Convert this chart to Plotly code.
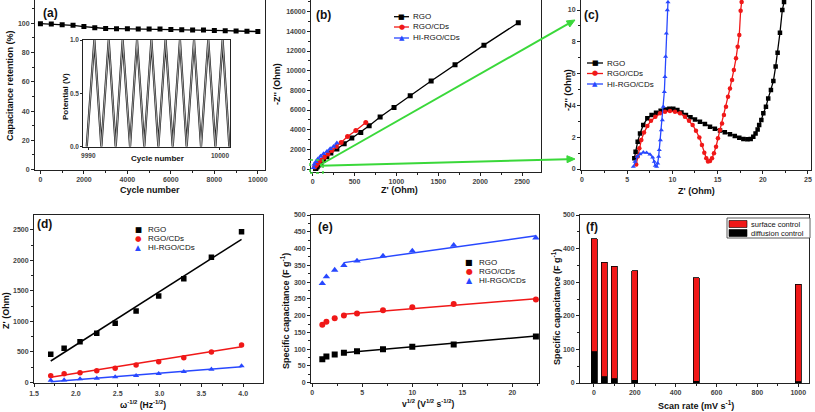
import plotly.graph_objects as go

W, H = 815, 412
FONT = "Liberation Sans, Arial, sans-serif"
GLYPH = "DejaVu Sans"

# ---------------- data ----------------
# (a) cycling stability
cycle_a = [0, 500, 1000, 1500, 2000, 2500, 3000, 3500, 4000, 4500, 5000,
           5500, 6000, 6500, 7000, 7500, 8000, 8500, 9000, 9500, 10000]
retention_a = [99.8, 99.5, 99.1, 98.7, 97.8, 97.0, 96.5, 96.4, 96.3, 96.2, 96.1,
               96.1, 95.8, 95.6, 95.5, 95.4, 95.1, 95.0, 94.8, 94.6, 94.4]
# (a) inset: turning points of the charge/discharge curve
inset_cycle = [9989.88, 9990.46, 9990.99, 9991.55, 9992.08, 9992.61, 9993.17,
               9993.70, 9994.25, 9994.79, 9995.32, 9995.87, 9996.41, 9996.96,
               9997.47, 9998.03, 9998.56, 9999.11, 9999.65, 10000.20, 10000.71]
inset_potential = [0.0, 1.0, 0.0, 1.0, 0.0, 1.0, 0.0, 1.0, 0.0, 1.0, 0.0,
                   1.0, 0.0, 1.0, 0.0, 1.0, 0.0, 1.0, 0.0, 1.0, 0.0]
inset_ticks = [9990, 10000]
inset_ticktext = ["9990", "10000"]

# (b) Nyquist full range
b_rgo_x = [35, 42, 55, 75, 100, 130, 170, 218, 290, 377, 468, 575, 675, 806, 972, 1165, 1415, 1700, 2045, 2455]
b_rgo_y = [40, 110, 230, 400, 620, 900, 1250, 1620, 2030, 2570, 3146, 3720, 4400, 5280, 6250, 7450, 8950, 10600, 12600, 14880]
b_cd_x = [24, 44, 71, 103, 139, 183, 230, 282, 341, 417, 516, 635]
b_cd_y = [203, 372, 609, 880, 1184, 1522, 1894, 2300, 2706, 3315, 3924, 4736]
b_hi_x = [10, 20, 40, 63, 95, 131, 171, 210, 250, 290]
b_hi_y = [120, 474, 744, 1015, 1286, 1556, 1793, 2063, 2300, 2640]

# (c) Nyquist zoom
c_rgo_x = [5.79, 5.93, 6.16, 6.42, 6.78, 7.23, 7.70, 8.19, 8.70, 9.18, 9.66, 10.10,
           10.55, 11.00, 11.50, 12.00, 12.50, 13.05, 13.60, 14.16, 14.70, 15.27,
           15.80, 16.37, 16.90, 17.40, 17.85, 18.30, 18.66, 18.95, 19.20, 19.43,
           19.60, 19.84, 20.06, 20.35, 20.60, 20.90, 21.17, 21.42, 21.64, 21.90, 22.16, 22.35]
c_rgo_y = [0.67, 1.09, 1.72, 2.24, 2.77, 3.19, 3.40, 3.54, 3.67, 3.75, 3.79, 3.79,
           3.71, 3.56, 3.40, 3.25, 3.12, 2.98, 2.83, 2.66, 2.54, 2.43,
           2.31, 2.18, 2.08, 1.97, 1.89, 1.87, 1.89, 2.03, 2.24, 2.49,
           2.77, 3.08, 3.50, 3.92, 4.44, 4.97, 5.53, 6.44, 7.32, 8.57, 10.0, 10.5]
c_cd_x = [6.00, 6.16, 6.34, 6.56, 6.86, 7.23, 7.63, 8.11, 8.63, 9.18, 9.73, 10.29,
          10.84, 11.39, 11.84, 12.24, 12.61, 12.98, 13.27, 13.53, 13.75, 13.94,
          14.16, 14.38, 14.60, 14.83, 15.04, 15.27, 15.49, 15.70, 15.93, 16.15,
          16.37, 16.60, 16.80, 17.04, 17.22, 17.40, 17.55, 17.66]
c_cd_y = [0.29, 0.78, 1.30, 1.82, 2.29, 2.70, 3.04, 3.29, 3.50, 3.60, 3.65, 3.60,
          3.50, 3.29, 3.04, 2.77, 2.41, 1.99, 1.51, 1.03, 0.67, 0.48,
          0.50, 0.67, 0.99, 1.40, 1.93, 2.45, 2.87, 3.40, 3.92, 4.55,
          5.07, 5.60, 6.23, 6.96, 7.69, 8.43, 9.96, 10.5]
c_hi_x = [5.68, 5.86, 6.12, 6.42, 6.78, 7.15, 7.52, 7.82, 8.00, 8.11, 8.26, 8.37,
          8.48, 8.55, 8.67, 8.78, 8.89, 9.00, 9.11, 9.18, 9.25, 9.33, 9.44, 9.51]
c_hi_y = [0.15, 0.46, 0.78, 0.94, 1.05, 1.03, 0.92, 0.73, 0.46, 0.21, 0.15, 0.36,
          0.78, 1.20, 1.82, 2.45, 3.08, 3.92, 4.86, 5.80, 7.07, 8.53, 10.0, 10.5]

# (d) Z' vs omega^-1/2
d_x = [1.70, 1.86, 2.05, 2.25, 2.47, 2.72, 2.99, 3.29, 3.62, 3.98]
d_rgo = [459, 558, 667, 804, 968, 1170, 1417, 1701, 2051, 2472]
d_cd = [109, 142, 159, 191, 230, 284, 339, 405, 498, 613]
d_hi = [33, 38, 55, 66, 88, 109, 142, 175, 213, 268]
d_fit_x = [1.70, 3.98]
d_fit_rgo = [350, 2347]
d_fit_cd = [82, 585]
d_fit_hi = [11, 257]

# (e) specific capacitance vs v^1/2
e_x = [1.0, 1.41, 2.24, 3.16, 4.47, 7.07, 10.0, 14.14, 22.36]
e_rgo = [70, 78, 84, 89.5, 94, 100, 107, 114, 138]
e_cd = [173, 182, 192, 200, 206, 216, 225, 235, 248]
e_hi = [296, 316, 336, 350, 363, 378, 393, 410, 432]
e_fit_x = [3.16, 22.36]
e_fit_rgo = [89.5, 139]
e_fit_cd = [204, 250.5]
e_fit_hi = [358, 438]

# (f) capacitance contributions
f_rate = [2, 50, 100, 200, 500, 1000]
f_diffusion = [93, 18, 12, 8, 5, 3]
f_total = [430, 359, 347, 334, 314, 294]
f_surface = [t - d for t, d in zip(f_total, f_diffusion)]

RED = "#f01818"
BLUE = "#2848ff"
BLACK = "#000000"
GREEN = "#3ad83a"


def px(x):
    return x / W


def py(y):
    return 1 - y / H


def axis(xpx, rng, dtick, minor=None, tick0=0, tickvals=None, ticktext=None,
         ypx=None, anchor=None, fmt=None, ticklen=3, tfs=7):
    if ypx is not None:
        dom = [py(ypx[1]), py(ypx[0])]
    else:
        dom = [px(xpx[0]), px(xpx[1])]
    d = dict(domain=dom, range=rng, showline=True, linecolor="#222", linewidth=1,
             mirror=True, ticks="outside", ticklen=ticklen, tickwidth=1, tickcolor="#222",
             tickfont=dict(size=tfs, family=FONT, color="#444", weight="bold"),
             exponentformat="none", separatethousands=False,
             showgrid=False, zeroline=False, automargin=False, anchor=anchor)
    if fmt is not None:
        d["tickformat"] = fmt
    if tickvals is not None:
        d["tickmode"] = "array"
        d["tickvals"] = tickvals
        if ticktext is not None:
            d["ticktext"] = ticktext
    else:
        d["dtick"] = dtick
        d["tick0"] = tick0
    if minor is not None:
        d["minor"] = dict(dtick=minor, ticks="outside", ticklen=2, tickcolor="#222", showgrid=False)
    return d


fig = go.Figure()


def line_marker(x, y, xa, ya, color, symbol, size, name):
    fig.add_trace(go.Scatter(x=x, y=y, xaxis=xa, yaxis=ya, mode="lines+markers", name=name,
                             line=dict(color=color, width=1.3),
                             marker=dict(symbol=symbol, size=size, color=color),
                             showlegend=False))


def markers(x, y, xa, ya, color, symbol, size, name):
    fig.add_trace(go.Scatter(x=x, y=y, xaxis=xa, yaxis=ya, mode="markers", name=name,
                             marker=dict(symbol=symbol, size=size, color=color),
                             showlegend=False))


def fit(x, y, xa, ya, color, name):
    fig.add_trace(go.Scatter(x=x, y=y, xaxis=xa, yaxis=ya, mode="lines", name=name,
                             line=dict(color=color, width=1.5), showlegend=False))


# (a)
line_marker(cycle_a, retention_a, "x", "y", BLACK, "square", 5, "Capacitance retention")
fig.add_trace(go.Scatter(x=inset_cycle, y=inset_potential, xaxis="x2", yaxis="y2", mode="lines",
                         line=dict(color="#1a1a1a", width=2.2), showlegend=False, name="GCD"))
fig.add_trace(go.Scatter(x=inset_cycle, y=inset_potential, xaxis="x2", yaxis="y2", mode="lines",
                         line=dict(color="#a8a8a8", width=1.0), showlegend=False, name="GCD"))
# (b)
line_marker(b_rgo_x, b_rgo_y, "x3", "y3", BLACK, "square", 5, "RGO")
line_marker(b_cd_x, b_cd_y, "x3", "y3", RED, "circle", 5, "RGO/CDs")
line_marker(b_hi_x, b_hi_y, "x3", "y3", BLUE, "triangle-up", 5, "HI-RGO/CDs")
# (c)
line_marker(c_rgo_x, c_rgo_y, "x4", "y4", BLACK, "square", 4.5, "RGO")
line_marker(c_cd_x, c_cd_y, "x4", "y4", RED, "circle", 4.5, "RGO/CDs")
line_marker(c_hi_x, c_hi_y, "x4", "y4", BLUE, "triangle-up", 4.5, "HI-RGO/CDs")
# (d)
markers(d_x, d_rgo, "x5", "y5", BLACK, "square", 5.5, "RGO")
markers(d_x, d_cd, "x5", "y5", RED, "circle", 5.5, "RGO/CDs")
markers(d_x, d_hi, "x5", "y5", BLUE, "triangle-up", 5.5, "HI-RGO/CDs")
fit(d_fit_x, d_fit_rgo, "x5", "y5", BLACK, "RGO fit")
fit(d_fit_x, d_fit_cd, "x5", "y5", RED, "RGO/CDs fit")
fit(d_fit_x, d_fit_hi, "x5", "y5", BLUE, "HI-RGO/CDs fit")
# (e)
markers(e_x, e_rgo, "x6", "y6", BLACK, "square", 6, "RGO")
markers(e_x, e_cd, "x6", "y6", RED, "circle", 6, "RGO/CDs")
markers(e_x, e_hi, "x6", "y6", BLUE, "triangle-up", 6.5, "HI-RGO/CDs")
fit(e_fit_x, e_fit_rgo, "x6", "y6", BLACK, "RGO fit")
fit(e_fit_x, e_fit_cd, "x6", "y6", RED, "RGO/CDs fit")
fit(e_fit_x, e_fit_hi, "x6", "y6", BLUE, "HI-RGO/CDs fit")
# (f)
fig.add_trace(go.Bar(x=f_rate, y=f_diffusion, xaxis="x7", yaxis="y7", width=30,
                     marker=dict(color=BLACK, line=dict(color="#000", width=0.8)),
                     name="diffusion control", showlegend=False))
fig.add_trace(go.Bar(x=f_rate, y=f_surface, xaxis="x7", yaxis="y7", width=30,
                     marker=dict(color=RED, line=dict(color="#000", width=0.8)),
                     name="surface control", showlegend=False))

layout = dict(
    width=W, height=H, margin=dict(l=0, r=0, t=0, b=0),
    paper_bgcolor="white", plot_bgcolor="white", showlegend=False,
    barmode="stack", font=dict(family=FONT), separators=".,",
    xaxis=axis((35, 265), [-250, 10330], 2000, minor=1000, anchor="y", fmt="d"),
    yaxis=axis(None, [0, 116], 20, minor=10, ypx=(0, 169.5), anchor="x", fmt="d"),
    xaxis2=axis((83.3, 230), [9989.62, 10000.76], None, tickvals=inset_ticks,
                ticktext=inset_ticktext, anchor="y2", ticklen=2, tfs=6.5),
    yaxis2=axis(None, [0, 1.0], None, tickvals=[0, 0.5, 1.0], ticktext=["0.0", "0.5", "1.0"],
                ypx=(40, 146.7), anchor="x2", ticklen=2, tfs=6.5),
    xaxis3=axis((311, 541), [-19, 2726], 500, minor=250, anchor="y3", fmt="d"),
    yaxis3=axis(None, [-254, 17190], 2000, minor=1000, ypx=(0, 171.5), anchor="x3", fmt="d"),
    xaxis4=axis((581, 810.7), [-0.11, 25.3], 5, minor=2.5, anchor="y4", fmt="d"),
    yaxis4=axis(None, [-0.03, 10.63], 2, minor=1, ypx=(0, 169.5), anchor="x4", fmt="d"),
    xaxis5=axis((34, 263.3), [1.5, 4.24], 0.5, minor=0.25, anchor="y5", fmt=".1f"),
    yaxis5=axis(None, [-16, 2746], 500, minor=250, ypx=(215, 383.3), anchor="x5", fmt="d"),
    xaxis6=axis((311, 539.3), [-0.13, 22.7], 5, minor=2.5, anchor="y6", fmt="d"),
    yaxis6=axis(None, [0, 500], 50, minor=25, ypx=(215, 382.7), anchor="x6", fmt="d"),
    xaxis7=axis((580, 809.3), [-68, 1054], 200, minor=100, anchor="y7", fmt="d"),
    yaxis7=axis(None, [0, 500], 100, minor=50, ypx=(215, 383), anchor="x7", fmt="d"),
)
fig.update_layout(**layout)

annotations = []
shapes = []


def label(text, x, y, size=8, xanchor="left", color="#111", family=FONT, bold=False, angle=0):
    annotations.append(dict(text=text, x=px(x), y=py(y), xref="paper", yref="paper",
                            showarrow=False, xanchor=xanchor, yanchor="middle", textangle=angle,
                            font=dict(size=size, color=color, family=family,
                                      weight="bold" if bold else "normal")))


# axis titles
CAP = "Specific capacitance (F g<sup>-1</sup>)"
titles = [
    ("Capacitance retention (%)", 10, 86, -90, 9),
    ("Cycle number", 150, 190, 0, 9),
    ("Potential (V)", 65, 97, -90, 8),
    ("Cycle number", 157.5, 158.5, 0, 8),
    ("-Z'' (Ohm)", 277, 84, -90, 9),
    ("Z' (Ohm)", 399, 190, 0, 9),
    ("-Z'' (Ohm)", 568, 90, -90, 9),
    ("Z' (Ohm)", 696, 191, 0, 9),
    ("Z' (Ohm)", 6, 311, -90, 9),
    ("ω<sup>-1/2</sup> (Hz<sup>-1/2</sup>)", 143, 404, 0, 8.5),
    (CAP, 285, 311, -90, 9),
    ("v<sup>1/2</sup> (V<sup>1/2</sup> s<sup>-1/2</sup>)", 428.5, 403, 0, 8.5),
    (CAP, 556, 307, -90, 9),
    ("Scan rate (mV s<sup>-1</sup>)", 695.5, 405, 0, 9),
]
for t, x, y, ang, sz in titles:
    label(t, x, y, size=sz, xanchor="center", bold=True, angle=ang)

# panel letters
for t, (x, y) in zip(["(a)", "(b)", "(c)", "(d)", "(e)", "(f)"],
                     [(50, 13), (323, 15), (591, 15), (44, 224), (325, 227), (592, 227)]):
    label(t, x, y, size=12, xanchor="center", bold=True)

GLY = {"square": "■", "circle": "●", "triangle-up": "▲"}
series = [("RGO", BLACK, "square"), ("RGO/CDs", RED, "circle"), ("HI-RGO/CDs", BLUE, "triangle-up")]


def legend_rows(x0, x1, xtext, rows, with_line, gsize=7):
    for (name, color, sym), yy in zip(series, rows):
        xm = (x0 + x1) / 2
        if with_line:
            shapes.append(dict(type="line", xref="paper", yref="paper", x0=px(x0), x1=px(x1),
                               y0=py(yy), y1=py(yy), line=dict(color=color, width=1.3)))
        annotations.append(dict(text=GLY[sym], x=px(xm), y=py(yy), xref="paper", yref="paper",
                                showarrow=False, xanchor="center", yanchor="middle",
                                font=dict(size=gsize, color=color, family=GLYPH)))
        label(name, xtext, yy, size=8)


legend_rows(394, 409, 411, [16.7, 27, 38], True)
legend_rows(587, 603, 605, [63, 73.5, 84], True)
legend_rows(138, 138, 146, [229, 238.5, 248], False, gsize=7.5)
legend_rows(469, 469, 477, [262, 271, 280], False, gsize=8)

# (f) legend
shapes.append(dict(type="rect", xref="paper", yref="paper", x0=px(727), x1=px(810),
                   y0=py(238), y1=py(218), line=dict(color="#333", width=0.8), fillcolor="white"))
shapes.append(dict(type="rect", xref="paper", yref="paper", x0=px(729), x1=px(747),
                   y0=py(227.5), y1=py(220.5), line=dict(color="#000", width=0.6), fillcolor=RED))
shapes.append(dict(type="rect", xref="paper", yref="paper", x0=px(729), x1=px(747),
                   y0=py(236.5), y1=py(229.5), line=dict(color="#000", width=0.6), fillcolor=BLACK))
label("surface control", 749, 224, size=7.5)
label("diffusion control", 749, 233, size=7.5)

# green zoom markers between (b) and (c)
shapes.append(dict(type="rect", xref="paper", yref="paper", x0=px(310), x1=px(323),
                   y0=py(173), y1=py(160), line=dict(color=GREEN, width=1.5, dash="dot")))
for tip, tail in [((575, 20), (320, 165)), ((575, 159), (320, 165.7))]:
    dx, dy = tip[0] - tail[0], tip[1] - tail[1]
    L = (dx * dx + dy * dy) ** 0.5
    ux, uy = dx / L, dy / L
    base = (tip[0] - 8 * ux, tip[1] - 8 * uy)
    shapes.append(dict(type="line", xref="paper", yref="paper", x0=px(tail[0]), y0=py(tail[1]),
                       x1=px(base[0]), y1=py(base[1]), line=dict(color=GREEN, width=2)))
    p1 = (base[0] - 3.5 * uy, base[1] + 3.5 * ux)
    p2 = (base[0] + 3.5 * uy, base[1] - 3.5 * ux)
    path = "M {:.5f},{:.5f} L {:.5f},{:.5f} L {:.5f},{:.5f} Z".format(
        px(tip[0]), py(tip[1]), px(p1[0]), py(p1[1]), px(p2[0]), py(p2[1]))
    shapes.append(dict(type="path", xref="paper", yref="paper", path=path,
                       fillcolor=GREEN, line=dict(color=GREEN, width=1)))

fig.update_layout(annotations=annotations, shapes=shapes)
fig.write_html("out.html", config={"displayModeBar": False},
               post_script="document.body.style.margin='0';document.body.style.overflow='hidden';")
